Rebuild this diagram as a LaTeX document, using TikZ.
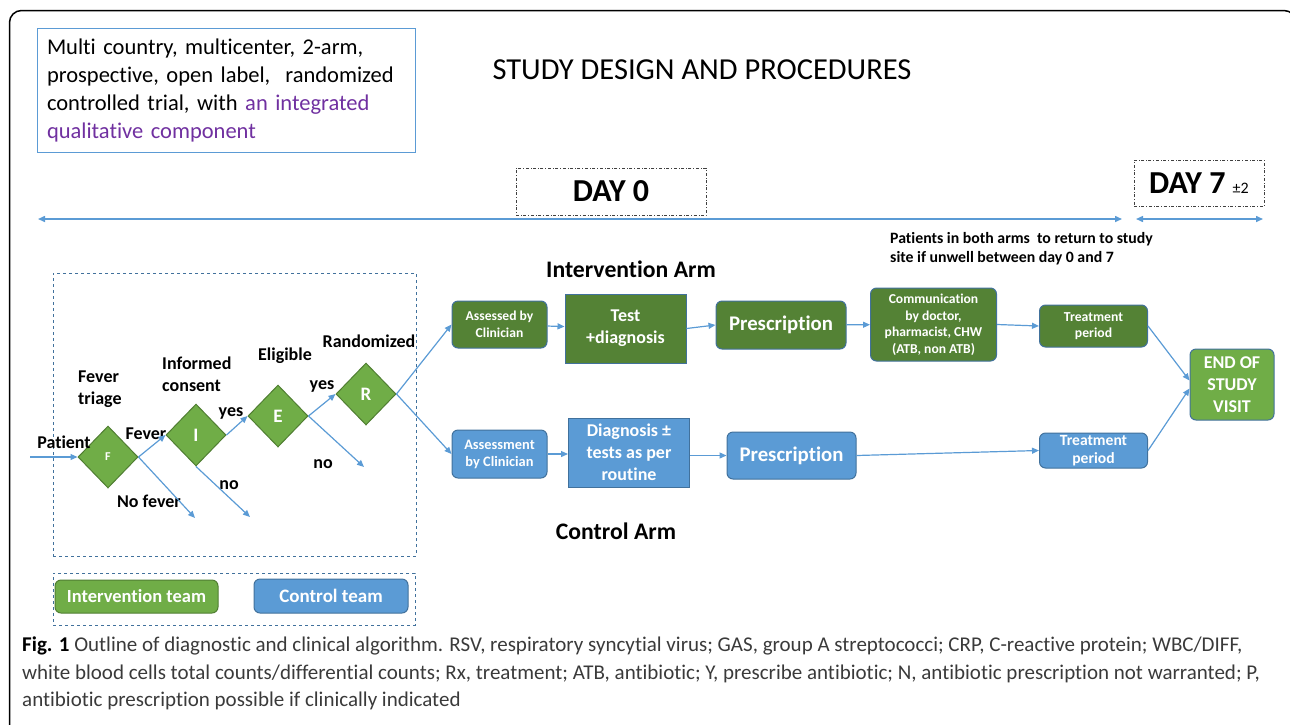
\documentclass[tikz,border=0pt]{standalone}
\usepackage{fontspec}
\setmainfont{Carlito}[Ligatures=NoCommon]
\newfontfamily\capfont{Carlito}[Ligatures=NoCommon]
\usetikzlibrary{arrows.meta,shapes.geometric}
\definecolor{lineblue}{HTML}{5B9BD5}
\definecolor{edgeblue}{HTML}{41719C}
\definecolor{armgreen}{HTML}{548235}
\definecolor{lightgreen}{HTML}{70AD47}
\definecolor{greenedge}{HTML}{507E32}
\definecolor{qualpurple}{HTML}{7030A0}
\definecolor{capgray}{HTML}{3A3A3A}
\begin{document}
\begin{tikzpicture}[
        x=1pt, y=-1pt,
        decision/.style={diamond, draw=greenedge, fill=lightgreen, line width=1, minimum width=60, minimum height=62, inner sep=0, text=white, font=\bfseries\fontsize{19}{19}\selectfont},
        lbl/.style={inner sep=0, align=left, font=\bfseries\fontsize{18}{22}\selectfont},
        greenbox/.style={rectangle, rounded corners=6, draw=edgeblue, fill=armgreen, line width=1, inner sep=0, text=white, align=center},
        bluebox/.style={rectangle, rounded corners=6, draw=edgeblue, fill=lineblue, line width=1, inner sep=0, text=white, align=center},
        daybox/.style={rectangle, draw=black!75, dash dot, line width=0.8, inner sep=0, font=\bfseries\fontsize{32}{32}\selectfont},
        teambox/.style={rectangle, draw=edgeblue, dashed, line width=1},
        arrow/.style={-{Triangle[length=7,width=6]}, lineblue, line width=1.2},
        timeline/.style={{Triangle[length=7,width=6]}-{Triangle[length=7,width=6]}, lineblue, line width=1.5}
    ]
    \useasboundingbox (0,0) rectangle (1290,724);
    \draw[line width=1.5, rounded corners=12] (9.5,10.5) rectangle (1296,740);
    
    \node[rectangle, draw=lineblue, line width=1, text width=358, inner xsep=10, inner ysep=0, minimum height=124, align=left, font=\fontsize{22.5}{28}\selectfont] (design) at (226,90) {Multi country, multicenter, 2-arm,\\prospective, open label,~ randomized\\controlled trial, with \textcolor{qualpurple}{an integrated}\\\textcolor{qualpurple}{qualitative component}};
    \node[font=\fontsize{30.5}{30.5}\selectfont] (title) at (702,70) {STUDY DESIGN AND PROCEDURES};
    
    \node[daybox, minimum width=190, minimum height=47] (day0) at (611,191.5) {DAY 0};
    \node[daybox, minimum width=130, minimum height=46] (day7) at (1199,183) {DAY 7~{\mdseries\fontsize{16}{16}\selectfont ±2}};
    \coordinate (t0) at (38,219);
    \coordinate (t1) at (1122,219);
    \coordinate (t2) at (1136,219);
    \coordinate (t3) at (1263,219);
    \draw[timeline] (t0) -- (t1);
    \draw[timeline] (t2) -- (t3);
    \node[anchor=north west, inner sep=0, align=left, font=\bfseries\fontsize{15.8}{19.5}\selectfont] (note) at (890,232) {Patients in both arms~ to return to study\\site if unwell between day 0 and 7};
    
    \node[teambox, minimum width=363, minimum height=283] (screen) at (234.5,414.5) {};
    \node[teambox, minimum width=362, minimum height=52] (legend) at (234,599) {};
    \node[greenbox, fill=lightgreen, draw=greenedge, minimum width=163, minimum height=33, font=\bfseries\fontsize{18.5}{18.5}\selectfont] (iteam) at (136.5,596.5) {Intervention team};
    \node[bluebox, minimum width=154, minimum height=34, font=\bfseries\fontsize{19}{19}\selectfont] (cteam) at (331,596) {Control team};
    
    \node[decision, font=\bfseries\fontsize{12}{12}\selectfont] (F) at (108,457) {F};
    \node[decision] (I) at (196,435) {I};
    \node[decision] (E) at (278,416) {E};
    \node[decision] (R) at (366,394) {R};
    
    \node[lbl] (patient) at (64,442) {Patient};
    \node[lbl, anchor=west] (triage) at (78,389) {Fever\\triage};
    \node[lbl] (fever) at (146,434) {Fever};
    \node[lbl, anchor=west] (consent) at (162,374) {Informed\\consent};
    \node[lbl] (eligible) at (285,356) {Eligible};
    \node[lbl] (random) at (369,341) {Randomized};
    \node[lbl] (yes1) at (231,413) {yes};
    \node[lbl] (yes2) at (322,386) {yes};
    \node[lbl] (nofever) at (149,501) {No fever};
    \node[lbl] (no1) at (229,485) {no};
    \node[lbl] (no2) at (323,464) {no};
    
    \coordinate (in) at (30,457);
    \coordinate (out1) at (195,518);
    \coordinate (out2) at (250,517);
    \coordinate (out3) at (364,467);
    \draw[arrow] (in) -- (F.west);
    \draw[arrow] (F.east) -- (I.west);
    \draw[arrow] (I.east) -- (E.west);
    \draw[arrow] (E.east) -- (R.west);
    \draw[arrow] (F.east) -- (out1);
    \draw[arrow] (I.south) -- (out2);
    \draw[arrow] (E.east) -- (out3);
    
    \node[font=\bfseries\fontsize{23.7}{23.7}\selectfont] (iarm) at (631,269) {Intervention Arm};
    \node[font=\bfseries\fontsize{23.7}{23.7}\selectfont] (carm) at (616,531) {Control Arm};
    
    \node[greenbox, minimum width=95, minimum height=47, font=\bfseries\fontsize{13.6}{16.5}\selectfont] (assessed) at (499.5,324.5) {Assessed by\\Clinician};
    \node[greenbox, rounded corners=0, minimum width=121, minimum height=69, font=\bfseries\fontsize{18}{22}\selectfont] (test) at (625.5,328.5) {Test\\+diagnosis};
    \node[greenbox, minimum width=130, minimum height=48, font=\bfseries\fontsize{20.8}{20.8}\selectfont] (presc1) at (781,325) {Prescription};
    \node[greenbox, minimum width=126, minimum height=73, font=\bfseries\fontsize{13.6}{16.5}\selectfont] (comm) at (933.5,324.5) {Communication\\by doctor,\\pharmacist, CHW\\(ATB, non ATB)};
    \node[greenbox, minimum width=108, minimum height=42, font=\bfseries\fontsize{13.7}{16.5}\selectfont] (treat1) at (1093.5,326) {Treatment\\period};
    \node[greenbox, fill=lightgreen, minimum width=84, minimum height=71, font=\bfseries\fontsize{18}{22}\selectfont] (visit) at (1232,384.5) {END OF\\STUDY\\VISIT};
    
    \node[bluebox, minimum width=95, minimum height=48, font=\bfseries\fontsize{14.4}{17}\selectfont] (assessment) at (499.5,454) {Assessment\\by Clinician};
    \node[bluebox, rounded corners=0, minimum width=121, minimum height=69, font=\bfseries\fontsize{18}{22}\selectfont] (diag) at (629,452.5) {Diagnosis ±\\tests as per\\routine};
    \node[bluebox, minimum width=129, minimum height=47, font=\bfseries\fontsize{20.8}{20.8}\selectfont] (presc2) at (791.5,455.5) {Prescription};
    \node[bluebox, minimum width=108, minimum height=35, font=\bfseries\fontsize{15.6}{18.5}\selectfont] (treat2) at (1093.5,450.5) {Treatment\\period};
    
    \draw[arrow] (R.east) -- (assessed.west);
    \draw[arrow] (R.east) -- (assessment.west);
    \draw[arrow] (assessed) -- (test);
    \draw[arrow] (test.east) -- (presc1.west);
    \draw[arrow] (presc1) -- (comm);
    \draw[arrow] (comm.east) -- (treat1.west);
    \draw[arrow] (treat1.east) -- ([yshift=4]visit.west);
    \draw[arrow] (assessment.east) -- (diag.west |- assessment.east);
    \draw[arrow] (diag.east |- presc2.west) -- (presc2.west);
    \draw[arrow] (presc2.east) -- (treat2.west);
    \draw[arrow] (treat2.east) -- ([yshift=-4]visit.west);
    
    \node[anchor=north west, inner sep=0, align=left, text=capgray, font=\capfont\fontsize{21}{27.5}\selectfont] (caption) at (22,637) {{\color{black}\bfseries Fig. 1} Outline of diagnostic and clinical algorithm. RSV, respiratory syncytial virus; GAS, group A streptococci; CRP, C-reactive protein; WBC/DIFF,\\white blood cells total counts/differential counts; Rx, treatment; ATB, antibiotic; Y, prescribe antibiotic; N, antibiotic prescription not warranted; P,\\antibiotic prescription possible if clinically indicated};
    
\end{tikzpicture}
\end{document}
